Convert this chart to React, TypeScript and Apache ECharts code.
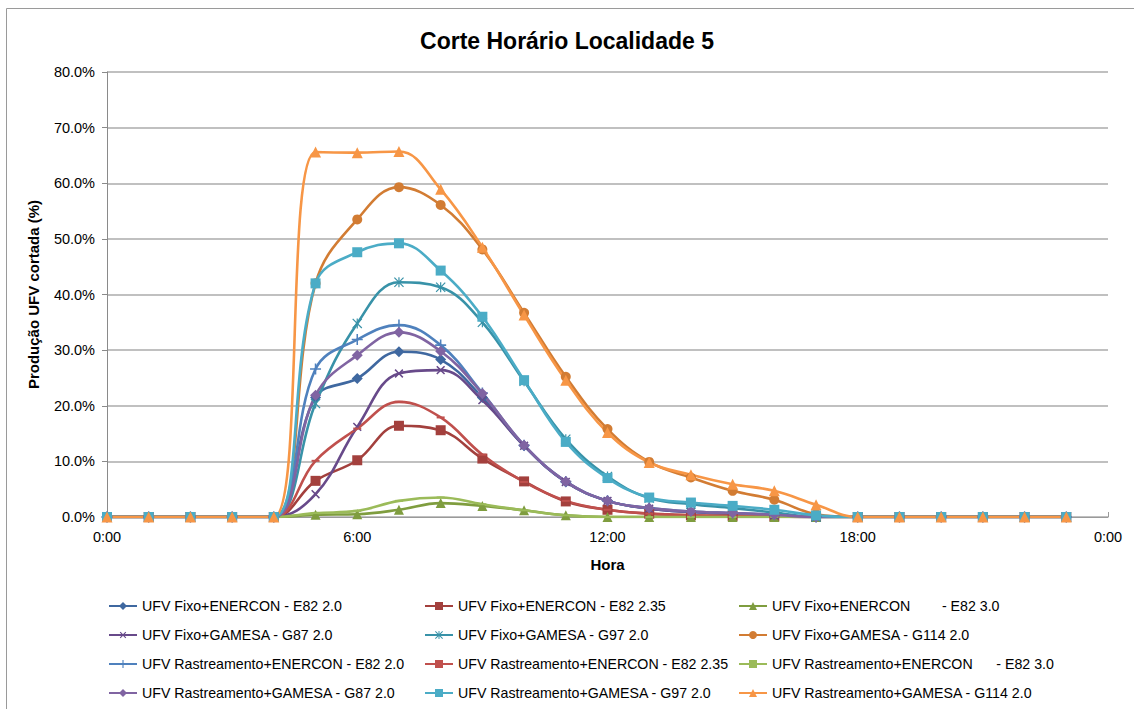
import React, { useEffect, useRef } from "react";
import * as echarts from "echarts";

const hours = [0, 1, 2, 3, 4, 5, 6, 7, 8, 9, 10, 11, 12, 13, 14, 15, 16, 17, 18, 19, 20, 21, 22, 23];
const xTickLabels = ["0:00", "6:00", "12:00", "18:00", "0:00"];

const seriesNames = [
  "UFV Fixo+ENERCON - E82 2.0",
  "UFV Fixo+ENERCON - E82 2.35",
  "UFV Fixo+ENERCON        - E82 3.0",
  "UFV Fixo+GAMESA - G87 2.0",
  "UFV Fixo+GAMESA - G97 2.0",
  "UFV Fixo+GAMESA - G114 2.0",
  "UFV Rastreamento+ENERCON - E82 2.0",
  "UFV Rastreamento+ENERCON - E82 2.35",
  "UFV Rastreamento+ENERCON      - E82 3.0",
  "UFV Rastreamento+GAMESA - G87 2.0",
  "UFV Rastreamento+GAMESA - G97 2.0",
  "UFV Rastreamento+GAMESA - G114 2.0",
];

const fixoE82_20 = [0, 0, 0, 0, 0, 21.5, 24.9, 29.7, 28.3, 21.5, 12.8, 6.3, 2.9, 1.5, 0.9, 0.6, 0.3, 0, 0, 0, 0, 0, 0, 0];
const fixoE82_235 = [0, 0, 0, 0, 0, 6.5, 10.2, 16.4, 15.6, 10.5, 6.4, 2.8, 1.3, 0.6, 0.3, 0.2, 0.1, 0, 0, 0, 0, 0, 0, 0];
const fixoE82_30 = [0, 0, 0, 0, 0, 0.4, 0.5, 1.3, 2.5, 2.0, 1.2, 0.3, 0, 0, 0, 0, 0, 0, 0, 0, 0, 0, 0, 0];
const fixoG87 = [0, 0, 0, 0, 0, 4.1, 16.2, 25.8, 26.4, 21.0, 12.8, 6.3, 2.9, 1.5, 0.9, 0.6, 0.3, 0, 0, 0, 0, 0, 0, 0];
const fixoG97 = [0, 0, 0, 0, 0, 20.4, 34.8, 42.2, 41.3, 35.0, 24.4, 14.0, 7.3, 3.4, 2.3, 1.6, 0.8, 0, 0, 0, 0, 0, 0, 0];
const fixoG114 = [0, 0, 0, 0, 0, 42.0, 53.5, 59.3, 56.1, 48.1, 36.7, 25.2, 15.8, 9.9, 7.1, 4.7, 3.1, 0.5, 0, 0, 0, 0, 0, 0];
const rastE82_20 = [0, 0, 0, 0, 0, 26.6, 31.9, 34.5, 30.9, 22.3, 12.9, 6.4, 2.9, 1.6, 1.0, 0.7, 0.4, 0, 0, 0, 0, 0, 0, 0];
const rastE82_235 = [0, 0, 0, 0, 0, 10.1, 15.9, 20.7, 17.9, 11.2, 6.3, 2.9, 1.3, 0.6, 0.3, 0.2, 0.1, 0, 0, 0, 0, 0, 0, 0];
const rastE82_30 = [0, 0, 0, 0, 0, 0.7, 1.1, 2.9, 3.5, 2.3, 1.2, 0.3, 0, 0, 0, 0, 0, 0, 0, 0, 0, 0, 0, 0];
const rastG87 = [0, 0, 0, 0, 0, 21.9, 29.1, 33.2, 29.8, 22.2, 12.9, 6.4, 2.9, 1.6, 1.0, 0.7, 0.4, 0, 0, 0, 0, 0, 0, 0];
const rastG97 = [0, 0, 0, 0, 0, 42.0, 47.6, 49.2, 44.3, 36.0, 24.6, 13.5, 7.0, 3.5, 2.6, 2.0, 1.3, 0.3, 0, 0, 0, 0, 0, 0];
const rastG114 = [0, 0, 0, 0, 0, 65.6, 65.5, 65.7, 58.9, 48.5, 36.3, 24.6, 15.2, 9.8, 7.6, 5.9, 4.7, 2.2, 0, 0, 0, 0, 0, 0];

const seriesValues = [
  fixoE82_20, fixoE82_235, fixoE82_30, fixoG87, fixoG97, fixoG114,
  rastE82_20, rastE82_235, rastE82_30, rastG87, rastG97, rastG114,
];

const colors = [
  "#3F68A0", "#A3403D", "#7F9D3F", "#684A8A", "#3892A8", "#D27C33",
  "#4F81BD", "#C0504D", "#9BBB59", "#8064A2", "#4BACC6", "#F79646",
];

const SYM_PLUS = "path://M4.3,0H5.7V4.3H10V5.7H5.7V10H4.3V5.7H0V4.3H4.3Z";
const SYM_STAR = "path://M4.4,0H5.6V10H4.4Z M0,0.85L0.85,0L10,9.15L9.15,10Z M9.15,0L10,0.85L0.85,10L0,9.15Z";
const SYM_DASH = "path://M0,0H10V2H0Z";

const symbols: any[] = [
  { symbol: "diamond", size: 11, rotate: 0 },
  { symbol: "rect", size: 10, rotate: 0 },
  { symbol: "triangle", size: 10, rotate: 0 },
  { symbol: SYM_PLUS, size: 11, rotate: 45 },
  { symbol: SYM_STAR, size: 10, rotate: 0 },
  { symbol: "circle", size: 10, rotate: 0 },
  { symbol: SYM_PLUS, size: 11, rotate: 0 },
  { symbol: SYM_DASH, size: [8, 2], rotate: 0 },
  { symbol: SYM_DASH, size: [8, 2], rotate: 0 },
  { symbol: "diamond", size: 11, rotate: 0 },
  { symbol: "rect", size: 10, rotate: 0 },
  { symbol: "triangle", size: 11, rotate: 0 },
];

const FONT = "'Liberation Sans', Arial, sans-serif";

export default function App() {
  const ref = useRef<HTMLDivElement>(null);
  useEffect(() => {
    if (!ref.current) return;
    const chart = echarts.init(ref.current, null, { renderer: "svg" });
    const series = seriesNames.map((name, i) => ({
      name,
      type: "line",
      smooth: 0.4,
      data: hours.map((h, j) => [h, seriesValues[i][j]]),
      symbol: symbols[i].symbol,
      symbolSize: symbols[i].size,
      symbolRotate: symbols[i].rotate,
      showAllSymbol: true,
      lineStyle: { color: colors[i], width: 2.6 },
      itemStyle: { color: colors[i] },
      emphasis: { disabled: true },
    }));
    const legendCols = [0, 1, 2].map((c) => ({
      orient: "vertical",
      left: [108, 424, 738][c],
      top: 599,
      height: 110,
      padding: 0,
      itemGap: 15,
      itemWidth: 28,
      itemHeight: 10,
      selectedMode: false,
      textStyle: { fontFamily: FONT, fontSize: 14.2, color: "#000", lineHeight: 14 },
      data: [0, 1, 2, 3].map((r) => seriesNames[r * 3 + c]),
    }));
    chart.setOption({
      animation: false,
      backgroundColor: "#fff",
      color: colors,
      title: {
        text: "Corte Horário Localidade 5",
        left: "center",
        top: 24,
        textStyle: { fontFamily: FONT, fontSize: 23, fontWeight: "bold", color: "#000" },
      },
      graphic: [
        {
          type: "rect",
          shape: { x: 6.5, y: 8.5, width: 1300, height: 900 },
          style: { fill: "none", stroke: "#9a9a9a", lineWidth: 1 },
          silent: true,
          z: -10,
        },
      ],
      legend: legendCols,
      grid: { left: 107, right: 26, top: 72, bottom: 192, containLabel: false },
      xAxis: {
        type: "value",
        min: 0,
        max: 24,
        interval: 6,
        name: "Hora",
        nameLocation: "middle",
        nameGap: 40,
        nameTextStyle: { fontFamily: FONT, fontSize: 15, fontWeight: "bold", color: "#000" },
        axisLine: { show: true, lineStyle: { color: "#9a9a9a", width: 1 } },
        axisTick: { show: true, inside: true, length: 5, lineStyle: { color: "#9a9a9a" } },
        axisLabel: {
          fontFamily: FONT,
          fontSize: 14.5,
          color: "#000",
          margin: 12,
          formatter: (v: number) => xTickLabels[Math.round(v / 6)],
        },
        splitLine: { show: false },
      },
      yAxis: {
        type: "value",
        min: 0,
        max: 80,
        interval: 10,
        name: "Produção UFV cortada (%)",
        nameLocation: "middle",
        nameGap: 66,
        nameTextStyle: { fontFamily: FONT, fontSize: 15, fontWeight: "bold", color: "#000" },
        axisLine: { show: true, lineStyle: { color: "#8a8a8a", width: 1 } },
        axisTick: { show: true, inside: false, length: 5, lineStyle: { color: "#8a8a8a" } },
        axisLabel: {
          fontFamily: FONT,
          fontSize: 14.5,
          color: "#000",
          margin: 12,
          formatter: (v: number) => v.toFixed(1) + "%",
        },
        splitLine: { show: true, lineStyle: { color: "#ababab", width: 1.5 } },
      },
      series,
    });
    return () => chart.dispose();
  }, []);
  return (
    <div
      ref={ref}
      style={{ position: "fixed", left: 0, top: 0, width: 1134, height: 709, background: "#fff" }}
    />
  );
}
